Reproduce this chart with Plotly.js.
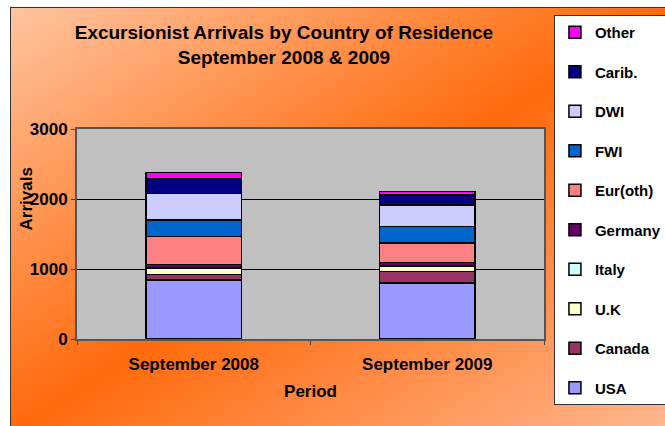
<!DOCTYPE html>
<html>
<head>
<meta charset="utf-8">
<script src="https://cdn.plot.ly/plotly-3.0.1.min.js"></script>
<style>
  html, body { margin: 0; padding: 0; background: #ffffff; }
  #wrap { position: relative; width: 665px; height: 426px; overflow: hidden; }
  #bg { position: absolute; left: 10px; top: 7px; width: 660px; height: 425px;
        border: 1px solid #333;
        background: linear-gradient(to bottom right, #FFC4A0 0%, #FF6A0C 50%, #FFB892 100%); }
  #chart { position: absolute; left: 0; top: 0; width: 665px; height: 426px; }
</style>
</head>
<body>
<div id="wrap"><div id="bg"></div><div id="chart"></div></div>
<script>
const periods = ["September 2008", "September 2009"];
const seriesNames = ["USA", "Canada", "U.K", "Italy", "Germany", "Eur(oth)", "FWI", "DWI", "Carib.", "Other"];
const seriesColors = ["#9999FF", "#993366", "#FFFFCC", "#CCFFFF", "#660066", "#FF8080", "#0066CC", "#CCCCFF", "#000080", "#FF00FF"];
const usa     = [845, 800];
const canada  = [74, 167];
const uk      = [98, 71];
const italy   = [8, 10];
const germany = [42, 47];
const eurOth  = [400, 276];
const fwi     = [233, 234];
const dwi     = [376, 309];
const carib   = [219, 143];
const other   = [86, 48];
const seriesValues = [usa, canada, uk, italy, germany, eurOth, fwi, dwi, carib, other];
const yTicks = [0, 1000, 2000, 3000];

const font = "Arial, 'Liberation Sans', sans-serif";

const traces = seriesNames.map((name, i) => ({
  type: "bar",
  name: name,
  x: periods,
  y: seriesValues[i],
  legendgroup: "g" + i,
  legendrank: 1000 - i,
  marker: { color: seriesColors[i], line: { color: "#000000", width: 1.5 } },
  hoverinfo: "x+y+name"
}));

const layout = {
  width: 665, height: 426,
  margin: { l: 77, r: 121, t: 129, b: 87, pad: 0, autoexpand: false },
  paper_bgcolor: "rgba(0,0,0,0)",
  plot_bgcolor: "#C0C0C0",
  barmode: "stack",
  bargap: 0.59,
  font: { family: font, color: "#000000" },
  title: {
    text: "<b>Excursionist Arrivals by Country of Residence<br>September 2008 & 2009</b>",
    font: { family: font, size: 19, color: "#000000" },
    x: 0.427, xanchor: "center", xref: "container",
    y: 0.908, yanchor: "top", yref: "container"
  },
  xaxis: {
    type: "category",
    tickson: "boundaries",
    ticks: "outside", ticklen: 4, tickcolor: "#444",
    ticklabelstandoff: 9,
    showline: true, linecolor: "#555", linewidth: 2, mirror: true,
    tickfont: { family: font, size: 17, color: "#000", weight: "bold" },
    title: { text: "<b>Period</b>", font: { family: font, size: 17, color: "#000" }, standoff: 12 },
    fixedrange: true
  },
  yaxis: {
    range: [0, 3000],
    tickvals: yTicks,
    ticktext: yTicks.map(v => "<b>" + v + "</b>"),
    ticks: "outside", ticklen: 4, tickcolor: "#444",
    showgrid: true, gridcolor: "#000000", gridwidth: 1,
    showline: true, linecolor: "#555", linewidth: 2, mirror: true,
    tickfont: { family: font, size: 17, color: "#000" },
    zeroline: false,
    fixedrange: true
  },
  annotations: [{
    text: "<b>Arrivals</b>", textangle: -90,
    xref: "paper", yref: "paper", x: -0.109, y: 0.665,
    xanchor: "center", yanchor: "middle", showarrow: false,
    font: { family: font, size: 17, color: "#000" }
  }],
  legend: {
    xref: "container", yref: "container",
    x: 0.833, xanchor: "left", y: 0.965, yanchor: "top",
    maxheight: 420,
    bgcolor: "#FFFFFF", bordercolor: "#333333", borderwidth: 1,
    traceorder: "grouped", tracegroupgap: 17,
    font: { family: font, size: 15, color: "#000", weight: "bold" }
  },
  showlegend: true
};

Plotly.newPlot("chart", traces, layout, { displayModeBar: false, staticPlot: true });
</script>
</body>
</html>
